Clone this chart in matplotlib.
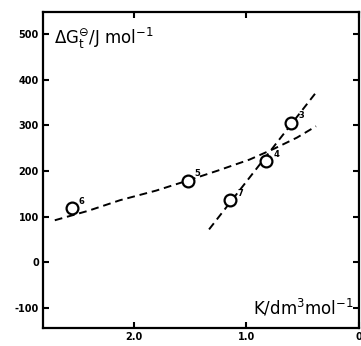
import matplotlib.pyplot as plt

# measured points (K / dm3 mol-1, dG / J mol-1) and their labels
k_vals = [2.55, 1.52, 1.14, 0.82, 0.60]
dg_vals = [118, 179, 136, 221, 306]
pt_labels = ['6', '5', '7', '4', '3']

# dashed curve through the low-slope branch
curve_k = [2.70, 2.40, 2.12, 1.80, 1.52, 1.25, 0.97, 0.75, 0.55, 0.38]
curve_dg = [92, 113, 136, 157, 179, 201, 225, 249, 273, 298]

# steep dashed line
steep_k = [1.33, 0.38]
steep_dg = [72, 372]

fig = plt.figure(figsize=(3.61, 3.46), dpi=100)
ax = fig.add_axes([0.119, 0.052, 0.875, 0.913])

ax.plot(curve_k, curve_dg, color='black', linestyle=(0, (4, 2.5)), linewidth=1.4)
ax.plot(steep_k, steep_dg, color='black', linestyle=(0, (4, 2.5)), linewidth=1.4)
ax.plot(k_vals, dg_vals, 'o', markersize=8.5, markerfacecolor='white',
        markeredgecolor='black', markeredgewidth=1.6, zorder=3)
for k, g, lab in zip(k_vals, dg_vals, pt_labels):
    ax.annotate(lab, (k, g), xytext=(5, 3), textcoords='offset points',
                fontsize=6, fontweight='bold')

ax.set_xlim(2.805, 0.0)
ax.set_ylim(-144, 548)
ax.set_xticks([2.0, 1.0, 0.0])
ax.set_xticklabels(['2.0', '1.0', '0'])
ax.set_yticks([-100, 0, 100, 200, 300, 400, 500])
ax.set_yticklabels(['-100', '0', '100', '200', '300', '400', '500'])
ax.tick_params(direction='in', length=4, width=1.5, labelsize=7,
               top=True, right=True, pad=3)
for lab in ax.get_xticklabels() + ax.get_yticklabels():
    lab.set_fontweight('bold')
for sp in ax.spines.values():
    sp.set_linewidth(1.6)

ax.text(0.035, 0.955, r'$\Delta\mathrm{G}^{\ominus}_{\mathrm{t}}$/J mol$^{-1}$',
        transform=ax.transAxes, fontsize=12, va='top', ha='left')
ax.text(0.985, 0.03, r'K/dm$^{3}$mol$^{-1}$', transform=ax.transAxes,
        fontsize=12, va='bottom', ha='right')

fig.savefig('out.png', dpi=100)
